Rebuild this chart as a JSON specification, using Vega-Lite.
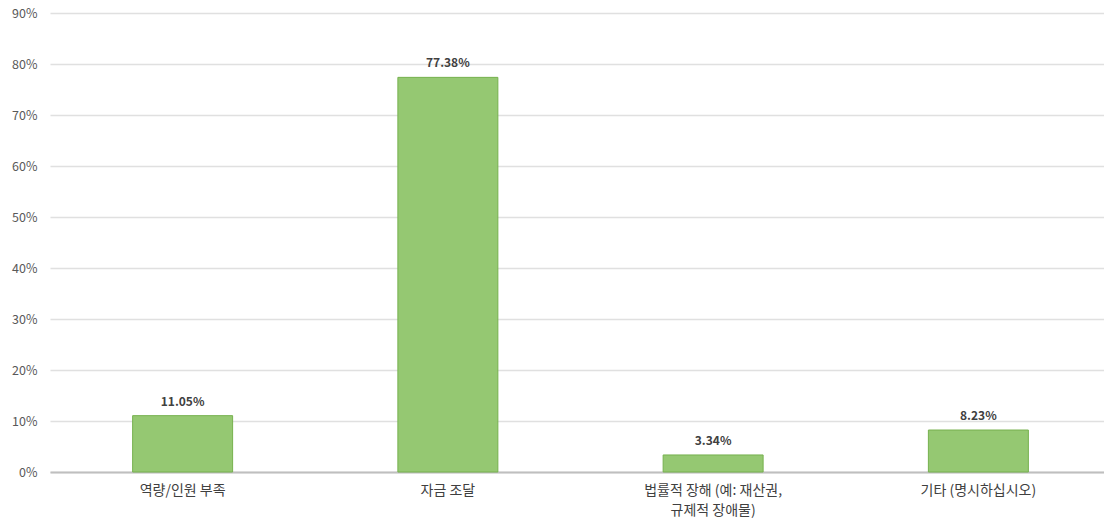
{
  "$schema": "https://vega.github.io/schema/vega-lite/v6.json",
  "autosize": "none",
  "padding": {"left": 50, "top": 13, "right": 0, "bottom": 48},
  "width": 1061,
  "height": 459,
  "background": "white",
  "data": {
    "values": [
      {"category": "역량/인원 부족", "value": 0.1105},
      {"category": "자금 조달", "value": 0.7738},
      {"category": "법률적 장해 (예: 재산권, 규제적 장애물)", "value": 0.0334},
      {"category": "기타 (명시하십시오)", "value": 0.0823}
    ]
  },
  "config": {
    "view": {"stroke": null},
    "font": "Noto Sans CJK KR"
  },
  "encoding": {
    "x": {
      "field": "category",
      "type": "nominal",
      "sort": null,
      "scale": {"paddingInner": 0.623, "paddingOuter": 0.3115},
      "axis": {
        "title": null,
        "labelAngle": 0,
        "ticks": false,
        "domainColor": "#bfbfbf",
        "domainWidth": 2,
        "labelPadding": 11,
        "labelFontSize": 14,
        "labelColor": "#404040",
        "labelLineHeight": 20,
        "labelExpr": "datum.value == '법률적 장해 (예: 재산권, 규제적 장애물)' ? ['법률적 장해 (예: 재산권,', '규제적 장애물)'] : datum.value"
      }
    },
    "y": {
      "field": "value",
      "type": "quantitative",
      "scale": {"domain": [0, 0.9], "nice": false},
      "axis": {
        "title": null,
        "format": ".0%",
        "values": [0, 0.1, 0.2, 0.3, 0.4, 0.5, 0.6, 0.7, 0.8, 0.9],
        "domain": false,
        "ticks": false,
        "labelPadding": 13,
        "labelFontSize": 12.5,
        "labelColor": "#595959",
        "gridColor": "#e0e0e0",
        "gridWidth": 1.5
      }
    }
  },
  "layer": [
    {
      "mark": {"type": "bar", "color": "#95c872", "stroke": "#76b14e", "strokeWidth": 1}
    },
    {
      "mark": {"type": "text", "dy": -7, "baseline": "bottom", "fontSize": 12, "fontWeight": "bold", "color": "#404040"},
      "encoding": {
        "text": {"field": "value", "type": "quantitative", "format": ".2%"}
      }
    }
  ]
}
